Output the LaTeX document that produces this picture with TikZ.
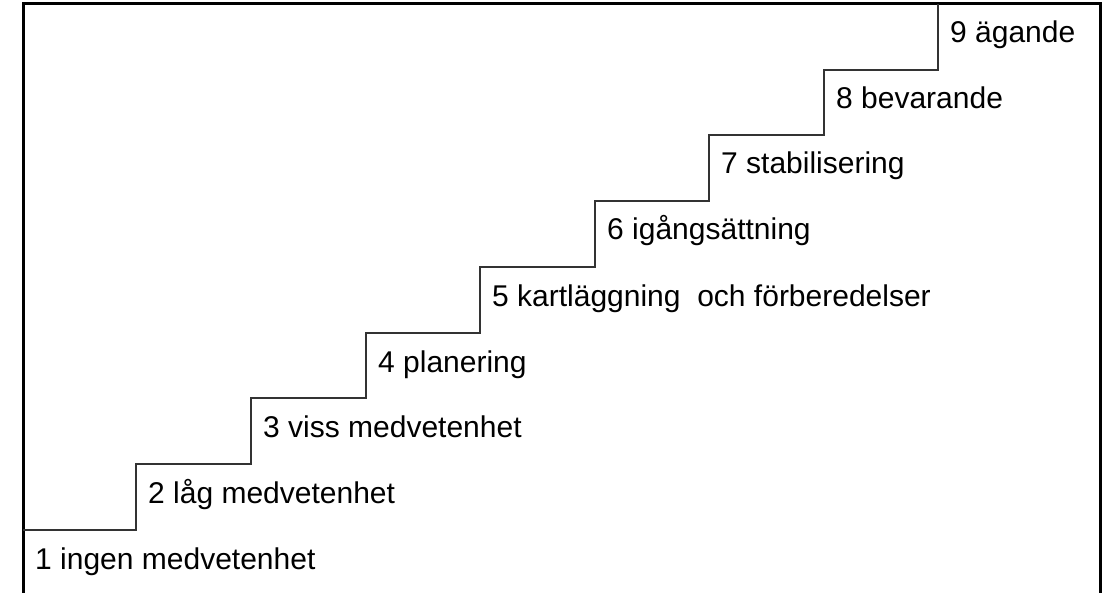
\documentclass[tikz,border=0pt]{standalone}
\usepackage{fontspec}
\setmainfont{Liberation Sans}
\begin{document}
\begin{tikzpicture}[x=1pt,y=-1pt,
  frame/.style={line width=3pt,black},
  stair/.style={line width=2pt,black!80},
  lbl/.style={anchor=base west,inner sep=0pt,font=\fontsize{30}{36}\selectfont}]
\useasboundingbox (0,0) rectangle (1115,593);
% frame
\draw[frame] (23,593) -- (23,4) -- (1100,4) -- (1100,593);
% stair corner coordinates
\coordinate (s0) at (23,530);
\foreach \i/\x/\y in {1/136/530,2/251/464,3/366/398,4/480/333,5/595/267,6/709/201,7/824/135,8/938/70}{
  \coordinate (b\i) at (\x,\y);
}
\coordinate (top) at (938,4);
\draw[stair,line join=miter] (s0) -- (b1) |- (b2) |- (b3) |- (b4) |- (b5) |- (b6) |- (b7) |- (b8) -- (top);
% labels
\node[lbl] (l1) at (35,569) {1 ingen medvetenhet};
\node[lbl] (l2) at (148,503) {2 låg medvetenhet};
\node[lbl] (l3) at (263,437) {3 viss medvetenhet};
\node[lbl] (l4) at (378,372) {4 planering};
\node[lbl] (l5) at (492,306) {5 kartläggning\ \ och förberedelser};
\node[lbl] (l6) at (607,240) {6 igångsättning};
\node[lbl] (l7) at (721,174) {7 stabilisering};
\node[lbl] (l8) at (836,109) {8 bevarande};
\node[lbl] (l9) at (950,43) {9 ägande};
\end{tikzpicture}
\end{document}
